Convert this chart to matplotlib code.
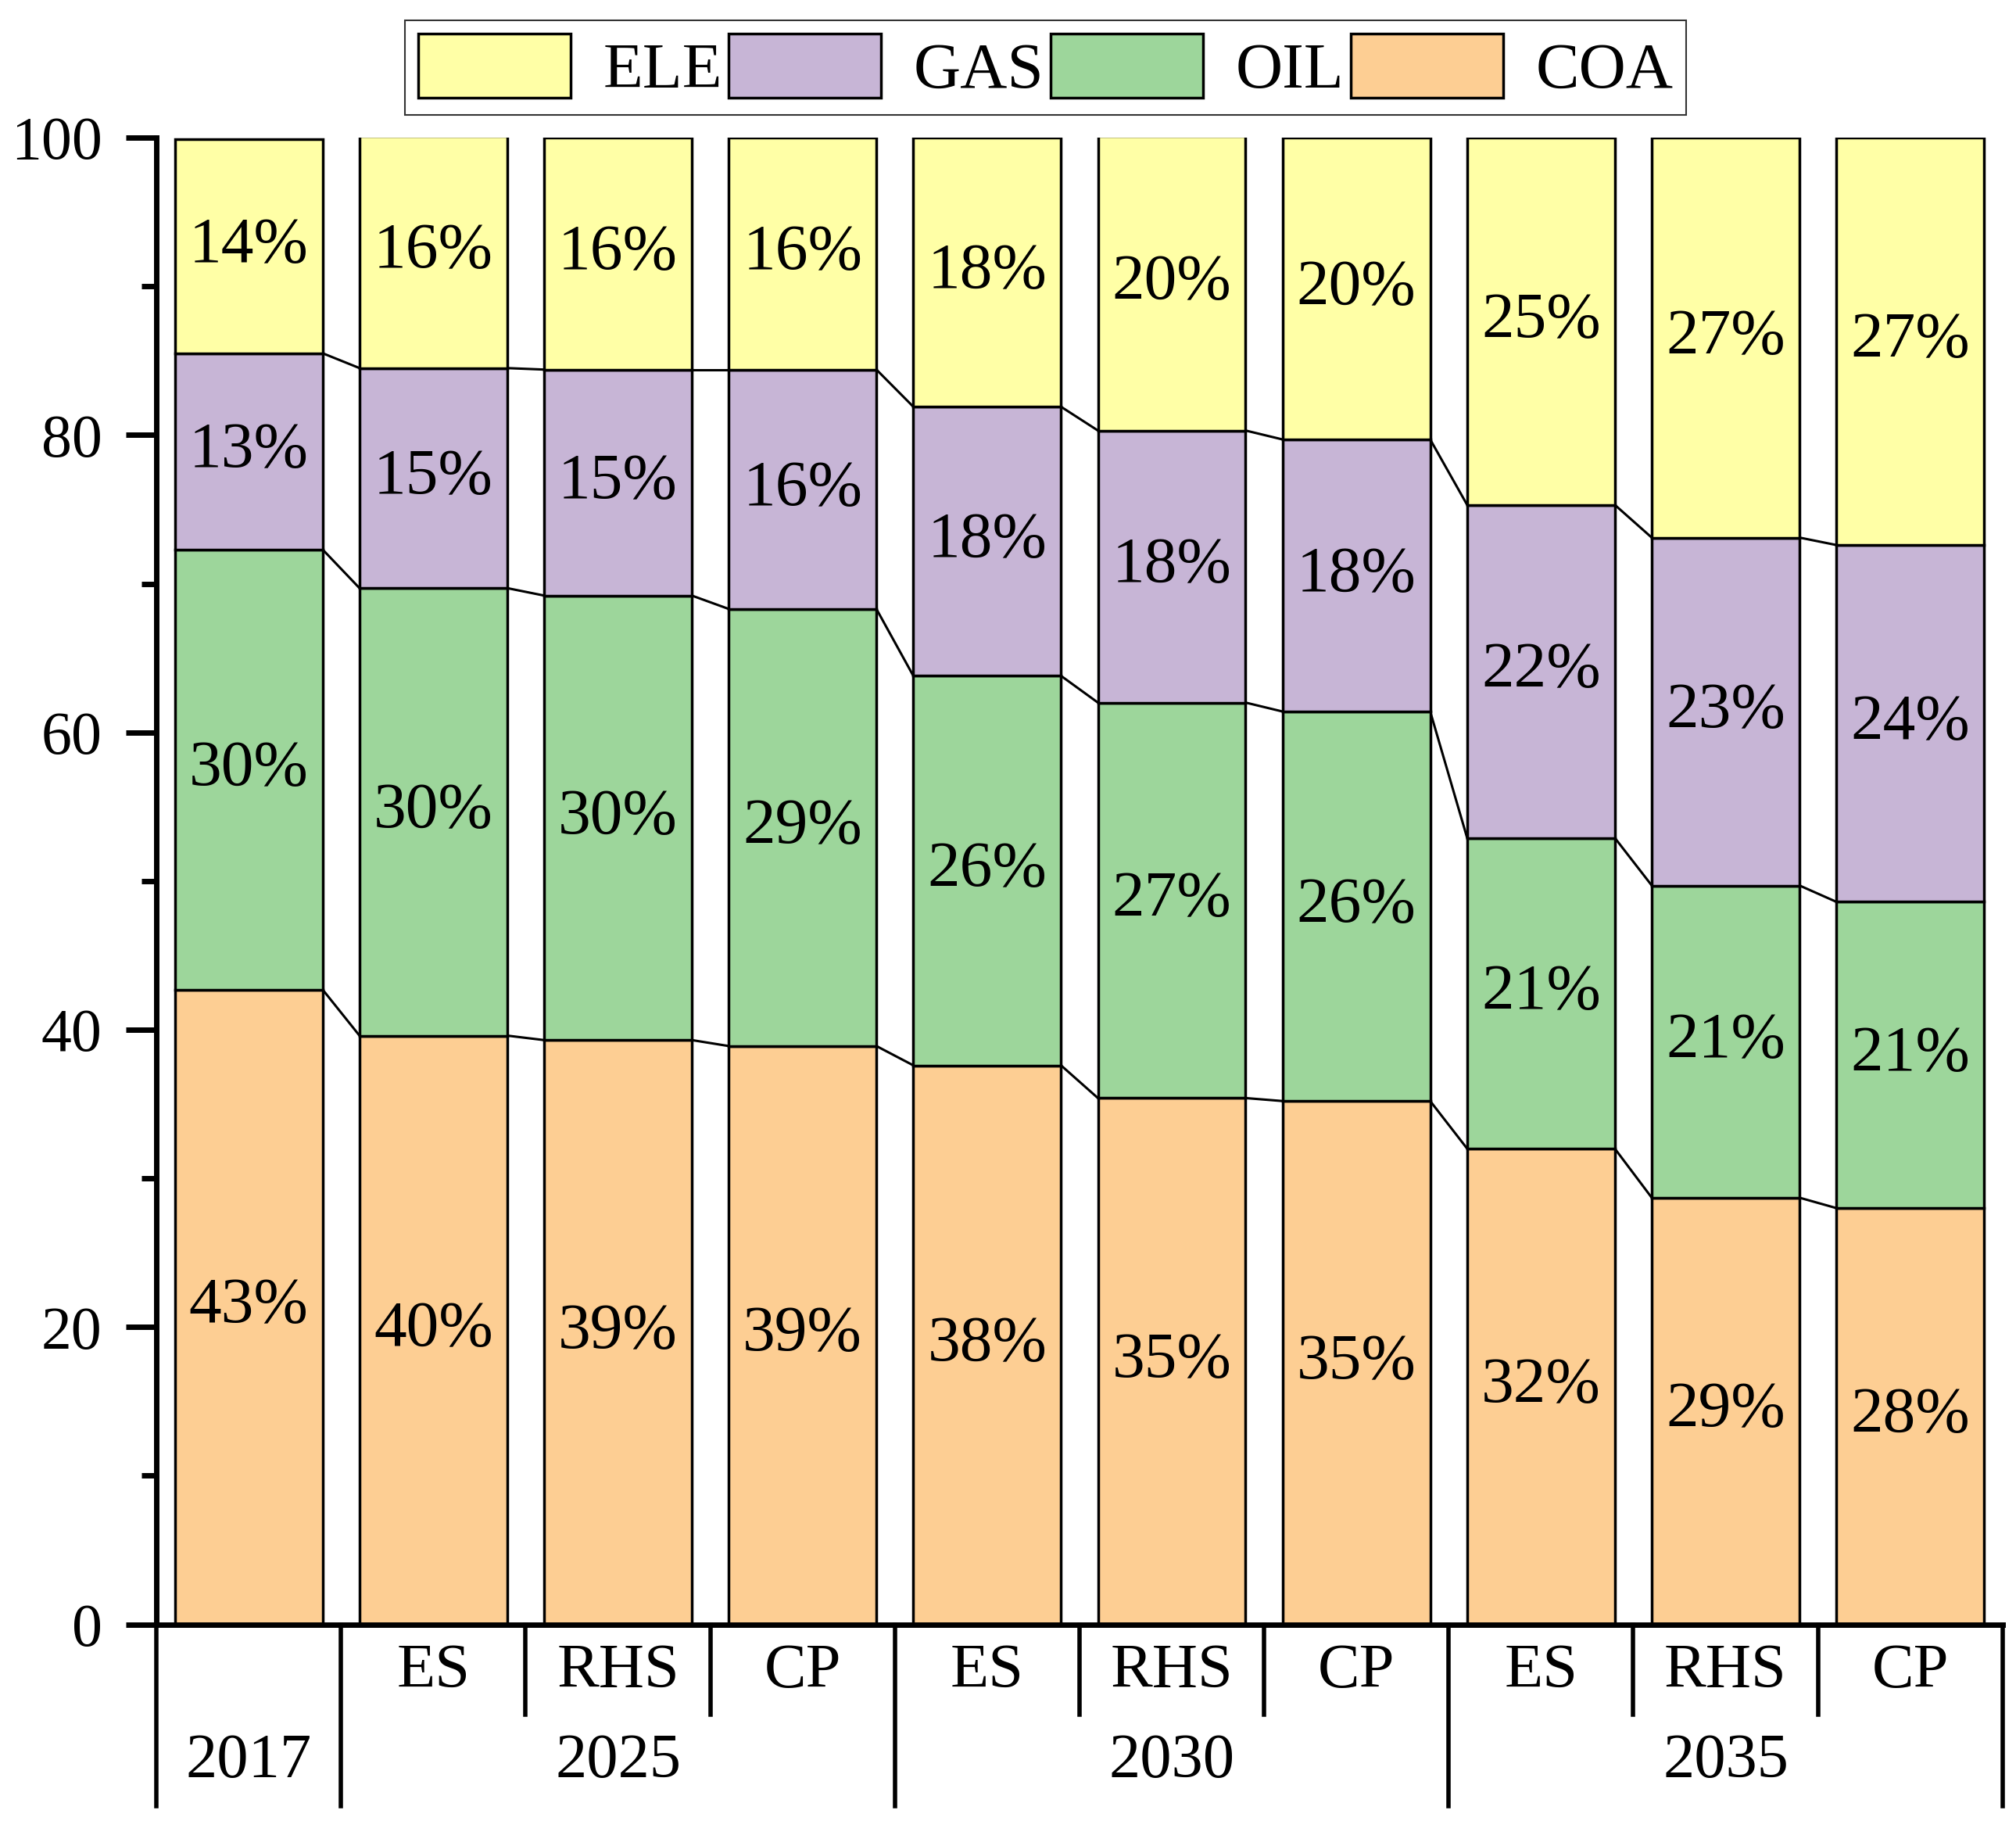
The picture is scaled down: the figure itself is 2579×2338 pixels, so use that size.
import matplotlib
matplotlib.use('Agg')
import matplotlib.pyplot as plt
from matplotlib.ticker import MultipleLocator
import numpy as np

# data (shares in %)
years = ['2017', '2025', '2030', '2035']
scenarios = ['', 'ES', 'RHS', 'CP', 'ES', 'RHS', 'CP', 'ES', 'RHS', 'CP']
coa = [42.7, 39.6, 39.3, 38.9, 37.6, 35.4, 35.2, 32.0, 28.7, 28.0]
oil = [29.6, 30.1, 29.9, 29.4, 26.2, 26.6, 26.2, 20.9, 21.0, 20.6]
gas = [13.2, 14.8, 15.2, 16.1, 18.1, 18.3, 18.3, 22.4, 23.4, 24.0]
ele = [14.4, 15.6, 15.6, 15.6, 18.1, 19.8, 20.3, 24.7, 26.9, 27.4]

series = [('COA', coa, '#FDCE93'), ('OIL', oil, '#9DD69B'),
          ('GAS', gas, '#C7B5D6'), ('ELE', ele, '#FFFFA6')]

plt.rcParams['font.family'] = ['Liberation Serif', 'DejaVu Serif']

fig = plt.figure(figsize=(25.79, 23.38), dpi=100)
ax = fig.add_axes([0.0776, 0.1114, 0.9157, 0.8133])

x = np.arange(len(coa))
w = 0.8
bottom = np.zeros(len(coa))
handles = {}
tops = []
for name, vals, col in series:
    vals = np.array(vals)
    bars = ax.bar(x, vals, w, bottom=bottom, color=col, edgecolor='black',
                  linewidth=2.5, zorder=2)
    handles[name] = bars
    for i, v in enumerate(vals):
        ax.text(x[i], bottom[i] + v / 2, '%d%%' % round(v), ha='center',
                va='center', fontsize=60, zorder=3)
    bottom = bottom + vals
    tops.append(bottom.copy())

# connecting lines between the stack boundaries
for lvl in tops[:-1]:
    for i in range(len(x) - 1):
        ax.plot([x[i] + w / 2, x[i + 1] - w / 2], [lvl[i], lvl[i + 1]],
                color='black', lw=2.2, zorder=1)

ax.set_xlim(-0.5, 9.5)
ax.set_ylim(0, 100)
ax.yaxis.set_major_locator(MultipleLocator(20))
ax.yaxis.set_minor_locator(MultipleLocator(10))
ax.tick_params(axis='y', which='major', direction='out', length=28, width=5,
               labelsize=56, pad=22)
ax.tick_params(axis='y', which='minor', direction='out', length=14, width=5)
ax.set_xticks([])
for s in ['top', 'right']:
    ax.spines[s].set_visible(False)
ax.spines['left'].set_linewidth(5)
ax.spines['bottom'].set_linewidth(5)

# two-level category axis
trans = ax.get_xaxis_transform()
for i, s in enumerate(scenarios):
    if s:
        ax.text(x[i], -0.032, s, transform=trans, ha='center', va='center',
                fontsize=58, clip_on=False)
year_pos = [0, 2, 5, 8]
for yp, yr in zip(year_pos, years):
    ax.text(yp, -0.0925, yr, transform=trans, ha='center', va='center',
            fontsize=58, clip_on=False)
long_sep = [-0.5, 0.5, 3.5, 6.5, 9.5]
short_sep = [1.5, 2.5, 4.5, 5.5, 7.5, 8.5]
for xs in long_sep:
    ax.plot([xs, xs], [0, -0.1225], transform=trans, color='black', lw=4,
            clip_on=False)
for xs in short_sep:
    ax.plot([xs, xs], [0, -0.0605], transform=trans, color='black', lw=4,
            clip_on=False)

order = ['ELE', 'GAS', 'OIL', 'COA']
leg = fig.legend([handles[k] for k in order], order, ncol=4, loc='center',
                 bbox_to_anchor=(0.5186, 0.963), fontsize=60, frameon=True,
                 fancybox=False, handlelength=2.34, handleheight=1.13,
                 handletextpad=0.5, columnspacing=0.1, borderpad=0.2,
                 borderaxespad=0)
leg.get_frame().set_edgecolor('black')
leg.get_frame().set_linewidth(1.5)

fig.savefig('out.png', dpi=100)
